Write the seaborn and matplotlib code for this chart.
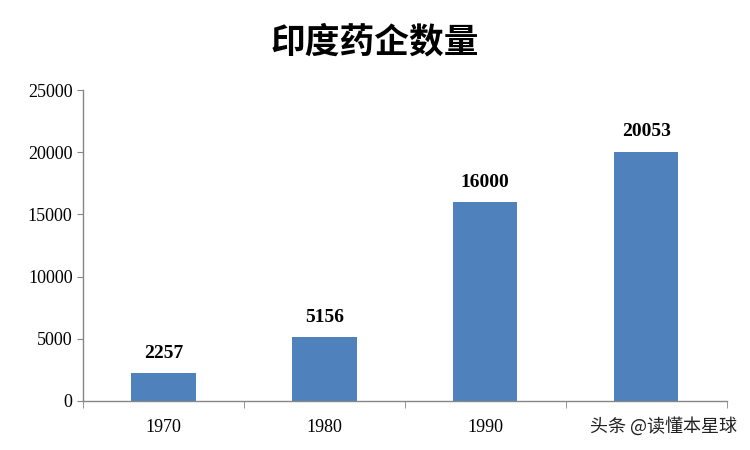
import matplotlib
matplotlib.use('Agg')
import matplotlib.pyplot as plt
import seaborn as sns
import pandas as pd
from matplotlib.ticker import FixedLocator

years = ['1970', '1980', '1990', '2000']
counts = [2257, 5156, 16000, 20053]
title = '印度药企数量'
watermark = '头条 @读懂本星球'

sns.set_style('white')
plt.rcParams['font.family'] = ['Liberation Serif', 'Noto Sans CJK SC']
plt.rcParams['text.color'] = 'black'
plt.rcParams['xtick.color'] = 'black'
plt.rcParams['ytick.color'] = 'black'

df = pd.DataFrame({'year': years, 'count': counts})

fig = plt.figure(figsize=(7.5, 4.5), dpi=100)
ax = fig.add_axes([0.1107, 0.109, 0.858, 0.691])

sns.barplot(data=df, x='year', y='count', color='#4F81BD', width=0.4,
            saturation=1, linewidth=0, ax=ax)

for i, v in enumerate(counts):
    ax.annotate(str(v), (i, v), xytext=(0, 8), textcoords='offset points',
                ha='center', va='bottom', fontsize=14, fontweight='bold',
                family='Liberation Serif', color='black')

ax.set_ylim(0, 25000)
ax.set_xlim(-0.5, 3.5)
ax.set_yticks(range(0, 25001, 5000))
# last year label is hidden under the watermark in the original
ax.set_xticks(range(len(years)))
ax.set_xticklabels(years[:3] + [''])
ax.set_xlabel('')
ax.set_ylabel('')
ax.tick_params(axis='y', labelsize=13, length=4, color='#868686', direction='out',
               left=True, labelcolor='black')
ax.tick_params(axis='x', which='major', labelsize=13, length=0, pad=13, labelcolor='black')
ax.xaxis.set_minor_locator(FixedLocator([-0.5, 0.5, 1.5, 2.5, 3.5]))
ax.tick_params(axis='x', which='minor', length=5, color='#868686', bottom=True)

for s in ['top', 'right']:
    ax.spines[s].set_visible(False)
for s in ['left', 'bottom']:
    ax.spines[s].set_color('#868686')
    ax.spines[s].set_linewidth(1)

fig.text(0.5, 0.907, title, ha='center', va='center', fontsize=25,
         fontweight='bold', family=['Noto Sans CJK SC'], color='black')

fig.text(0.983, 0.052, watermark, ha='right', va='center', fontsize=13,
         family=['Noto Sans CJK SC'], color='#222222')

fig.savefig('out.png', dpi=100)
